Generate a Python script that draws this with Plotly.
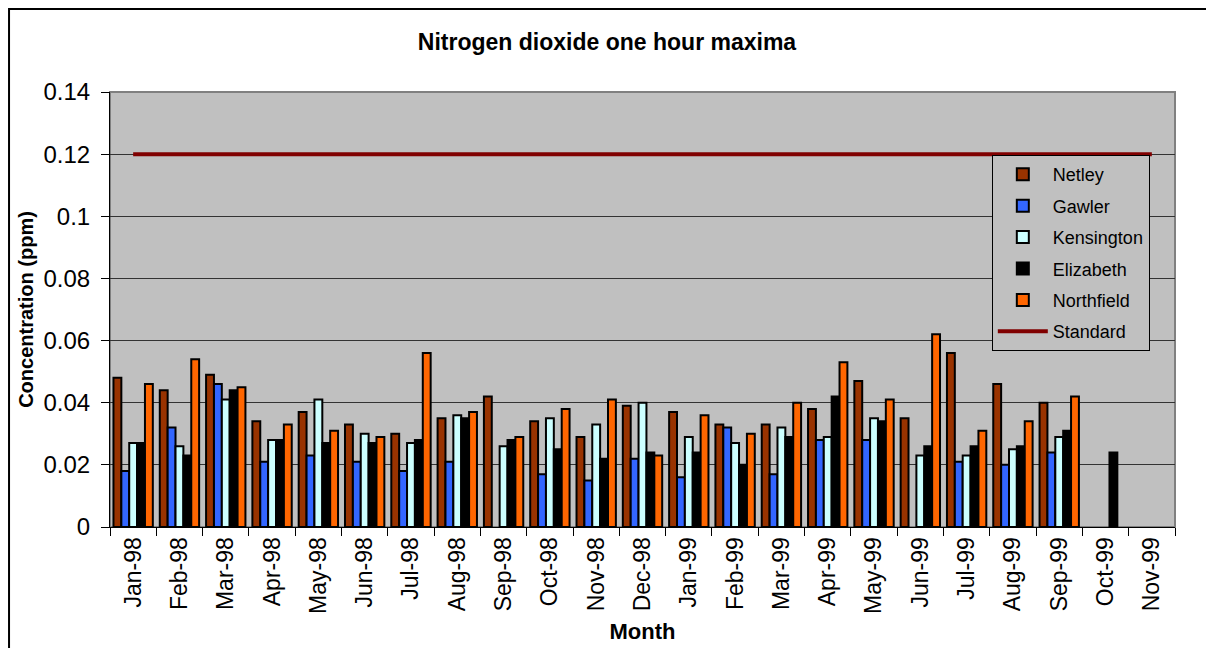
import plotly.graph_objects as go

months = ["Jan-98", "Feb-98", "Mar-98", "Apr-98", "May-98", "Jun-98", "Jul-98", "Aug-98",
          "Sep-98", "Oct-98", "Nov-98", "Dec-98", "Jan-99", "Feb-99", "Mar-99", "Apr-99",
          "May-99", "Jun-99", "Jul-99", "Aug-99", "Sep-99", "Oct-99", "Nov-99"]

netley = [0.048, 0.044, 0.049, 0.034, 0.037, 0.033, 0.030, 0.035, 0.042, 0.034, 0.029, 0.039,
          0.037, 0.033, 0.033, 0.038, 0.047, 0.035, 0.056, 0.046, 0.040, None, None]
gawler = [0.018, 0.032, 0.046, 0.021, 0.023, 0.021, 0.018, 0.021, None, 0.017, 0.015, 0.022,
          0.016, 0.032, 0.017, 0.028, 0.028, None, 0.021, 0.020, 0.024, None, None]
kensington = [0.027, 0.026, 0.041, 0.028, 0.041, 0.030, 0.027, 0.036, 0.026, 0.035, 0.033, 0.040,
              0.029, 0.027, 0.032, 0.029, 0.035, 0.023, 0.023, 0.025, 0.029, None, None]
elizabeth = [0.027, 0.023, 0.044, 0.028, 0.027, 0.027, 0.028, 0.035, 0.028, 0.025, 0.022, 0.024,
             0.024, 0.020, 0.029, 0.042, 0.034, 0.026, 0.026, 0.026, 0.031, 0.024, None]
northfield = [0.046, 0.054, 0.045, 0.033, 0.031, 0.029, 0.056, 0.037, 0.029, 0.038, 0.041, 0.023,
              0.036, 0.030, 0.040, 0.053, 0.041, 0.062, 0.031, 0.034, 0.042, None, None]
standard = [0.12] * len(months)

series = [
    ("Netley", netley, "#993300"),
    ("Gawler", gawler, "#3366FF"),
    ("Kensington", kensington, "#CCFFFF"),
    ("Elizabeth", elizabeth, "#000000"),
    ("Northfield", northfield, "#FF6600"),
]

fig = go.Figure()
for name, vals, color in series:
    fig.add_trace(go.Bar(x=months, y=vals, name=name, legendgroup=name,
                         marker=dict(color=color, line=dict(color="black", width=2))))
fig.add_trace(go.Scatter(x=months, y=standard, name="Standard", mode="lines", legendgroup="std",
                         line=dict(color="#800000", width=4)))

# page has an 8px body margin, so size the figure to fit inside the window
fig.update_layout(
    width=1198, height=640,
    margin=dict(l=102, r=31, t=84, b=121),
    paper_bgcolor="white", plot_bgcolor="#C0C0C0",
    font=dict(family="Arial, Liberation Sans", color="black"),
    title=dict(text="<b>Nitrogen dioxide one hour maxima</b>", x=0.5, xanchor="center",
               y=0.947, yanchor="middle", font=dict(size=23)),
    barmode="group", bargap=0.15, bargroupgap=0,
    showlegend=True,
    legend=dict(x=0.828, y=0.855, xanchor="left", yanchor="top", bgcolor="#C0C0C0",
                bordercolor="black", borderwidth=1, font=dict(size=18),
                tracegroupgap=5, itemwidth=50),
)
fig.update_xaxes(
    type="category", tickangle=-90, tickfont=dict(size=23), tickson="boundaries",
    ticks="outside", ticklen=8, tickcolor="black", showline=True, linecolor="black",
    linewidth=1, showgrid=False, automargin=False,
    title=dict(text="<b>Month</b>", font=dict(size=22), standoff=10),
)
fig.update_yaxes(
    range=[0, 0.14], dtick=0.02, tickformat="~g", tickfont=dict(size=24),
    ticks="outside", ticklen=8, tickcolor="black", showline=True, linecolor="black",
    linewidth=1, gridcolor="#333333", gridwidth=1, zeroline=False, ticklabelstandoff=6,
    automargin=False,
    title=dict(text="<b>Concentration (ppm)</b>", font=dict(size=20), standoff=4),
)
# grey frame on the plot area, and the outer chart border (only top/left edges fall in view)
fig.add_shape(type="rect", xref="paper", yref="paper", x0=0, x1=1, y0=0, y1=1,
              line=dict(color="#808080", width=2), layer="below")
fig.add_shape(type="rect", xref="paper", yref="paper", x0=-0.0948, x1=1.06, y0=-0.4, y1=1.1908,
              line=dict(color="black", width=2), layer="below")

fig.write_html("out.html")
